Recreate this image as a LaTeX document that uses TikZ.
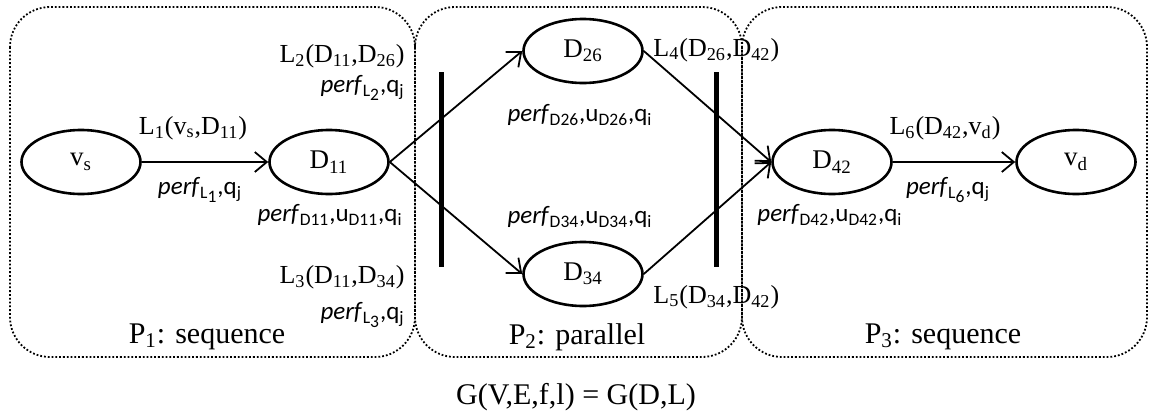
\documentclass[tikz,border=0pt]{standalone}
\usepackage{fontspec}
\setmainfont{Liberation Serif}
\setsansfont{Carlito}
\usetikzlibrary{shapes.geometric,arrows.meta}

\newcommand{\lowsub}[1]{\textsubscript{#1}}
\newcommand{\perfof}[1]{\textit{perf}\textsubscript{#1}}
\newcommand{\linkof}[1]{L\raisebox{-0.45ex}{#1}}

\tikzset{
  vert/.style={draw, ellipse, line width=1.3pt, minimum width=59.5pt, minimum height=32pt, inner sep=0pt, font=\fontsize{13.5}{16}\selectfont},
  lab/.style={font=\fontsize{13}{15}\selectfont, inner sep=1pt},
  sflab/.style={font=\sffamily\fontsize{12.5}{15}\selectfont, inner sep=1pt},
  part/.style={densely dotted, line width=0.9pt, rounded corners=20pt},
  flow/.style={line width=0.9pt, -{Straight Barb[length=6pt,width=10pt]}},
  bar/.style={line width=2.5pt}
}

\begin{document}
\begin{tikzpicture}[x=0.5pt, y=-0.5pt]
    \useasboundingbox (0,0) rectangle (1156,418);

    % Parts
    \draw[part] (10,7) rectangle (415,357);
    \draw[part] (415,7) rectangle (742,357);
    \draw[part] (742,7) rectangle (1147,357);

    % Vertices
    \node[vert] (vs) at (81,162) {v\lowsub{s}};
    \node[vert] (d11) at (329,162) {D\lowsub{11}};
    \node[vert] (d26) at (583,51) {D\lowsub{26}};
    \node[vert] (d34) at (583,274) {D\lowsub{34}};
    \node[vert] (d42) at (832,162) {D\lowsub{42}};
    \node[vert] (vd) at (1076,162) {v\lowsub{d}};

    % Links
    \draw[flow] (vs) -- (d11);
    \draw[flow] (d11.east) -- (d26.west);
    \draw[flow] (d11.east) -- (d34.west);
    \draw[flow] (d26.east) -- (d42.west);
    \draw[flow] (d34.east) -- (d42.west);
    \draw[flow] (d42) -- (vd);

    % Split and join bars
    \draw[bar] (441,72) -- (441,267);
    \draw[bar] (716,72) -- (716,267);

    % Link labels
    \node[lab] (lone) at (193,128) {L\lowsub{1}(v\lowsub{s},D\lowsub{11})};
    \node[sflab] (qone) at (200,190) {\perfof{\linkof{1}},q\lowsub{j}};
    \node[lab,anchor=east] (ltwo) at (407,56) {L\lowsub{2}(D\lowsub{11},D\lowsub{26})};
    \node[sflab,anchor=east] (qtwo) at (407,88) {\perfof{\linkof{2}},q\lowsub{j}};
    \node[lab,anchor=east] (lthree) at (407,277) {L\lowsub{3}(D\lowsub{11},D\lowsub{34})};
    \node[sflab,anchor=east] (qthree) at (407,315) {\perfof{\linkof{3}},q\lowsub{j}};
    \node[lab,anchor=west] (lfour) at (651,50) {L\lowsub{4}(D\lowsub{26},D\lowsub{42})};
    \node[lab,anchor=west] (lfive) at (651,297) {L\lowsub{5}(D\lowsub{34},D\lowsub{42})};
    \node[lab] (lsix) at (945,128) {L\lowsub{6}(D\lowsub{42},v\lowsub{d})};
    \node[sflab] (qsix) at (948,190) {\perfof{\linkof{6}},q\lowsub{j}};

    % Vertex labels
    \node[sflab,anchor=east] (pd11) at (405,215) {\perfof{D11},u\lowsub{D11},q\lowsub{i}};
    \node[sflab] (pd26) at (580,115) {\perfof{D26},u\lowsub{D26},q\lowsub{i}};
    \node[sflab] (pd34) at (580,217) {\perfof{D34},u\lowsub{D34},q\lowsub{i}};
    \node[sflab,anchor=west] (pd42) at (755,215) {\perfof{D42},u\lowsub{D42},q\lowsub{i}};

    % Part names
    \node[font=\fontsize{15}{18}\selectfont] (pa) at (207,337) {P\lowsub{1}: sequence};
    \node[font=\fontsize{15}{18}\selectfont] (pb) at (577,337) {P\lowsub{2}: parallel};
    \node[font=\fontsize{15}{18}\selectfont] (pc) at (943,337) {P\lowsub{3}: sequence};

    \node[font=\fontsize{15}{18}\selectfont] (graph) at (576,397) {G(V,E,f,l) = G(D,L)};
\end{tikzpicture}
\end{document}
